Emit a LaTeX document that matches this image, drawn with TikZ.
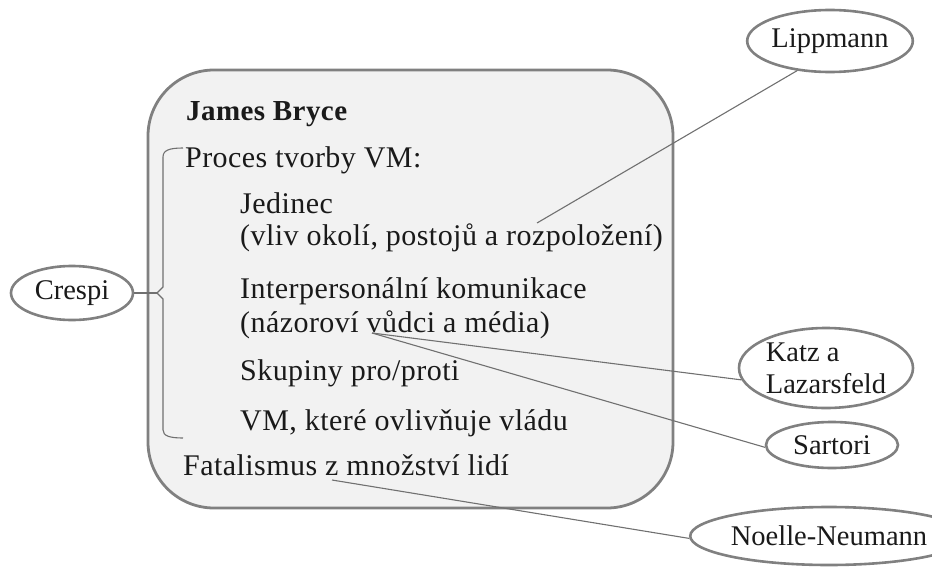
\documentclass[tikz,border=0pt]{standalone}
\usepackage{fontspec}
\setmainfont{Liberation Serif}
\usetikzlibrary{shapes.geometric}
\definecolor{boxfill}{HTML}{F2F2F2}
\definecolor{edgegray}{HTML}{808080}
\definecolor{linegray}{HTML}{707070}
\definecolor{txt}{HTML}{1A1A1A}
\newfontfamily\boxfont[LetterSpace=1.5]{Liberation Serif}
\tikzset{
  txtnode/.style={anchor=base west, inner sep=0pt, text=txt, font=\boxfont\fontsize{30}{34}\selectfont},
  person/.style={ellipse, draw=edgegray, line width=2.6pt, fill=white, inner sep=0pt, text=txt,
    font=\fontsize{28.5}{32}\selectfont, align=left},
  conn/.style={draw=linegray, line width=1.1pt},
}
\begin{document}
\begin{tikzpicture}[x=1pt,y=-1pt]
\useasboundingbox (0,0) rectangle (932,573);
% main box
\draw[draw=edgegray, fill=boxfill, line width=2.8pt, rounded corners=66pt] (148,70) rectangle (673,508);
% texts
\node[txtnode, font=\boxfont\fontsize{29}{34}\selectfont\bfseries] (t0) at (186,120) {James Bryce};
\node[txtnode] (t1) at (185,167) {Proces tvorby VM:};
\node[txtnode] (t2) at (240,213) {Jedinec};
\node[txtnode] (t3) at (240,245) {(vliv okolí, postojů a rozpoložení)};
\node[txtnode] (t4) at (240,298) {Interpersonální komunikace};
\node[txtnode] (t5) at (240,332) {(názoroví vůdci a média)};
\node[txtnode] (t6) at (240,380) {Skupiny pro/proti};
\node[txtnode] (t7) at (240,430) {VM, které ovlivňuje vládu};
\node[txtnode] (t8) at (183,475) {Fatalismus z množství lidí};
% bracket
\coordinate (bt) at (183,148);
\coordinate (bm) at (157,293);
\coordinate (bb) at (183,438);
\draw[conn] (bt) .. controls (170,148) and (163,150) .. (163,157) -- (163,287) -- (bm) -- (163,299) -- (163,430) .. controls (163,436) and (170,438) .. (bb);
% anchor coordinates
\coordinate (pLip) at (537,223);
\coordinate (pInt) at (372,333);
\coordinate (pFat) at (332,480);
% persons
\node[person, minimum width=160pt, minimum height=62pt] (lip) at (830,41) {Lippmann};
\node[person, minimum width=122pt, minimum height=54pt] (cre) at (72,293) {Crespi};
\node[person, minimum width=174pt, minimum height=80pt] (katz) at (826,368) {Katz a\\Lazarsfeld};
\node[person, minimum width=132pt, minimum height=46pt] (sar) at (832,445) {Sartori};
\node[person, minimum width=212pt, minimum height=58pt] (noe) at (829,536) {Noelle-Neumann};
% connectors
\draw[conn] (pLip) -- (lip.222);
\draw[conn] (pInt) -- (katz.188);
\draw[conn] (pInt) -- (sar.182);
\draw[conn] (pFat) -- (noe.181);
\draw[conn] (cre.east) -- (bm);
\end{tikzpicture}
\end{document}
